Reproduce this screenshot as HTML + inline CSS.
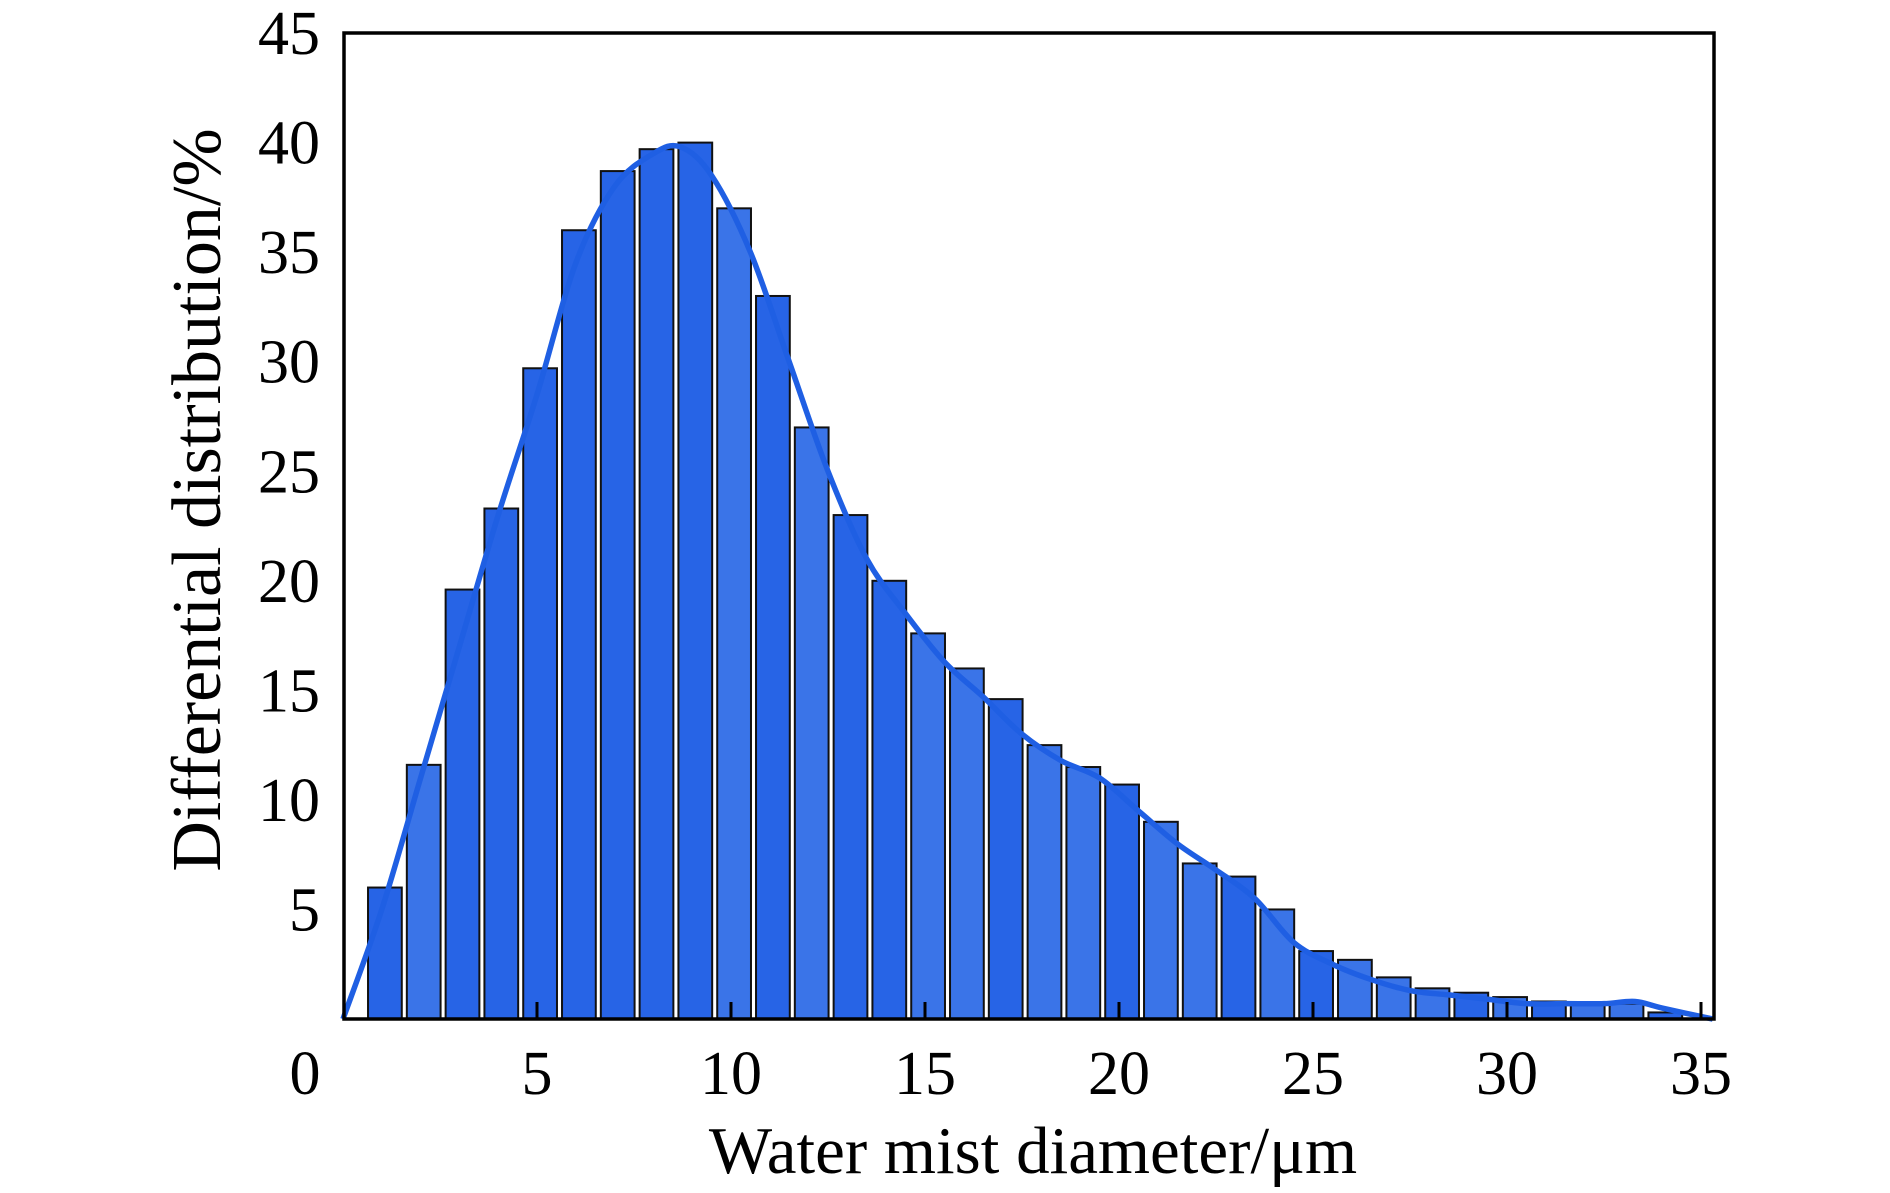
<!DOCTYPE html>
<html><head><meta charset="utf-8"><style>
html,body{margin:0;padding:0;background:#fff;}
svg{display:block;font-family:"Liberation Serif",serif;}
</style></head><body>
<svg id="chart" width="1890" height="1193" viewBox="0 0 1890 1193" xmlns="http://www.w3.org/2000/svg">
<g id="bars"></g>
<path id="curve" fill="none" stroke="#1f5fe3" stroke-width="5.5"/>
<rect x="344" y="33" width="1370" height="986" fill="none" stroke="#000" stroke-width="3.5"/>
<g id="ticks"></g>
<text x="1033" y="1173" font-size="67" text-anchor="middle">Water mist diameter/μm</text>
<text transform="translate(220,500) rotate(-90)" font-size="70" text-anchor="middle">Differential distribution/%</text>
</svg>
<script>
const barX = [1.08,2.08,3.08,4.08,5.08,6.08,7.08,8.08,9.08,10.08,11.08,12.08,13.08,14.08,15.08,16.08,17.08,18.08,19.08,20.08,21.08,22.08,23.08,24.08,25.08,26.08,27.08,28.08,29.08,30.08,31.08,32.08,33.08,34.08];
const barValues = [6,11.6,19.6,23.3,29.7,36,38.7,39.7,40,37,33,27,23,20,17.6,16,14.6,12.5,11.5,10.7,9,7.1,6.5,5,3.1,2.7,1.9,1.4,1.2,1.0,0.8,0.7,0.7,0.3];
const barShade = [0,1,0,0,0,0,0,0,0,1,0,1,0,0,1,1,0,1,1,0,1,1,0,1,0,1,1,1,0,1,0,1,1,0];
const curveX = [0,1,2,3,4,5,6,7,8,8.7,9.5,10.5,11.5,12.5,13.5,14.5,15.5,16.5,17.5,18.5,19.5,20.5,21.5,22.5,23.5,24.5,25.5,26.5,27.5,28.5,29.5,30.5,31.5,32.5,33.3,34,35.3];
const curveY = [0,5,11,17,23,28.5,34.5,38,39.5,39.8,38.5,35,30,25,21,18.5,16.3,14.7,13,11.8,11,9.5,8,6.8,5.5,3.5,2.5,1.8,1.3,1.1,0.9,0.7,0.7,0.7,0.8,0.5,0];
const xTicks = [0,5,10,15,20,25,30,35];
const yTicks = [5,10,15,20,25,30,35,40,45];

const NS="http://www.w3.org/2000/svg";
const X0=343, XU=38.8, Y0=1019, YU=21.91;
const sx=v=>X0+v*XU, sy=v=>Y0-v*YU;
const bw=0.87*XU;
const gb=document.getElementById('bars');
barValues.forEach((v,i)=>{
  const r=document.createElementNS(NS,'rect');
  
  
  r.setAttribute('x',sx(barX[i])-bw/2);
  r.setAttribute('y',sy(v));
  r.setAttribute('width',bw);
  r.setAttribute('height',Y0-sy(v));
  r.setAttribute('fill',barShade[i]?'#3a74e8':'#2764e6');
  r.setAttribute('stroke','#111');
  r.setAttribute('stroke-width','2');
  gb.appendChild(r);
});
const P=curveX.map((x,i)=>[sx(x),sy(curveY[i])]);
let d='M'+P[0][0]+','+P[0][1];
for(let i=0;i<P.length-1;i++){
  const p0=P[Math.max(0,i-1)],p1=P[i],p2=P[i+1],p3=P[Math.min(P.length-1,i+2)];
  const c1=[p1[0]+(p2[0]-p0[0])/6,p1[1]+(p2[1]-p0[1])/6];
  const c2=[p2[0]-(p3[0]-p1[0])/6,p2[1]-(p3[1]-p1[1])/6];
  d+=' C'+c1+' '+c2+' '+p2;
}
document.getElementById('curve').setAttribute('d',d);
const gt=document.getElementById('ticks');
xTicks.forEach(t=>{
  if(t>0){
    const l=document.createElementNS(NS,'line');
    
    
    l.setAttribute('x1',sx(t));l.setAttribute('x2',sx(t));
    l.setAttribute('y1',Y0);l.setAttribute('y2',Y0-17);
    l.setAttribute('stroke','#000');l.setAttribute('stroke-width','3');
    gt.appendChild(l);
  }
  const tx=document.createElementNS(NS,'text');
  
  
  tx.setAttribute('x',t===0?305:sx(t));
  tx.setAttribute('y',1094);
  tx.setAttribute('font-size','62');
  tx.setAttribute('text-anchor','middle');
  tx.textContent=t;
  gt.appendChild(tx);
});
yTicks.forEach(t=>{
  const tx=document.createElementNS(NS,'text');
  
  
  tx.setAttribute('x',320);
  tx.setAttribute('y',sy(t)+21);
  tx.setAttribute('font-size','62');
  tx.setAttribute('text-anchor','end');
  tx.textContent=t;
  gt.appendChild(tx);
});
</script>
</body></html>
